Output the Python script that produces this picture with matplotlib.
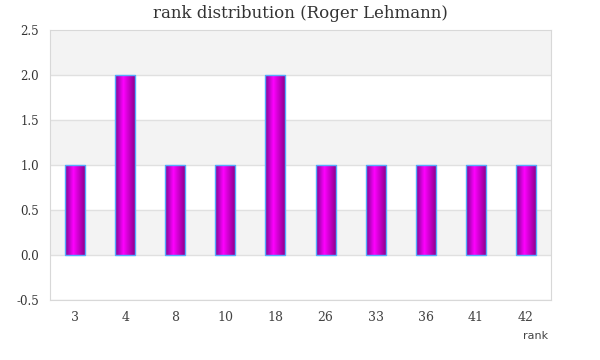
import matplotlib
matplotlib.use('Agg')
import matplotlib.pyplot as plt
import numpy as np
from matplotlib.colors import LinearSegmentedColormap

ranks = ['3', '4', '8', '10', '18', '26', '33', '36', '41', '42']
counts = [1, 2, 1, 1, 2, 1, 1, 1, 1, 1]

fig = plt.figure(figsize=(6, 3.6), dpi=100)
ax = fig.add_axes([50 / 600, 60 / 360, 501 / 600, 270 / 360])

ax.set_xlim(-0.5, len(ranks) - 0.5)
ax.set_ylim(-0.5, 2.5)

# alternating bands
yt = np.arange(-0.5, 2.51, 0.5)
for i in range(len(yt) - 1):
    if i % 2 == 1:
        ax.axhspan(yt[i], yt[i + 1], color='#f3f3f3', zorder=0, lw=0)
    ax.axhline(yt[i], color='#e0e0e0', lw=1, zorder=1)

cmap = LinearSegmentedColormap.from_list(
    'bar', [(0, '#7a0a8c'), (0.4, '#ff00ff'), (1, '#850085')])
grad = np.linspace(0, 1, 64).reshape(1, -1)

x = np.arange(len(ranks))
bars = ax.bar(x, counts, width=0.4, color='none', edgecolor='#55aaff',
              linewidth=1, zorder=3)
for b in bars:
    x0, y0 = b.get_x(), b.get_y()
    im = ax.imshow(grad, cmap=cmap, aspect='auto', zorder=2,
                   extent=(x0, x0 + b.get_width(), y0, y0 + b.get_height()))
    im.set_clip_path(b)
ax.set_xlim(-0.5, len(ranks) - 0.5)
ax.set_ylim(-0.5, 2.5)

for s in ax.spines.values():
    s.set_color('#d8d8d8')

ax.set_xticks(x)
ax.set_xticklabels(ranks, family='DejaVu Serif', fontsize=9, color='#444444')
ax.set_yticks(yt)
ax.set_yticklabels(['%.1f' % v for v in yt], family='DejaVu Serif',
                   fontsize=8.5, color='#333333')
ax.tick_params(length=0, pad=8)
ax.tick_params(axis='x', pad=8)

ax.set_xlabel('rank', loc='right', fontsize=8, color='#444444')
ax.xaxis.set_label_coords(0.994, -0.115)
fig.suptitle('rank distribution (Roger Lehmann)', family='DejaVu Serif',
             fontsize=12, color='#333333', y=0.985)

fig.savefig('out.png')
